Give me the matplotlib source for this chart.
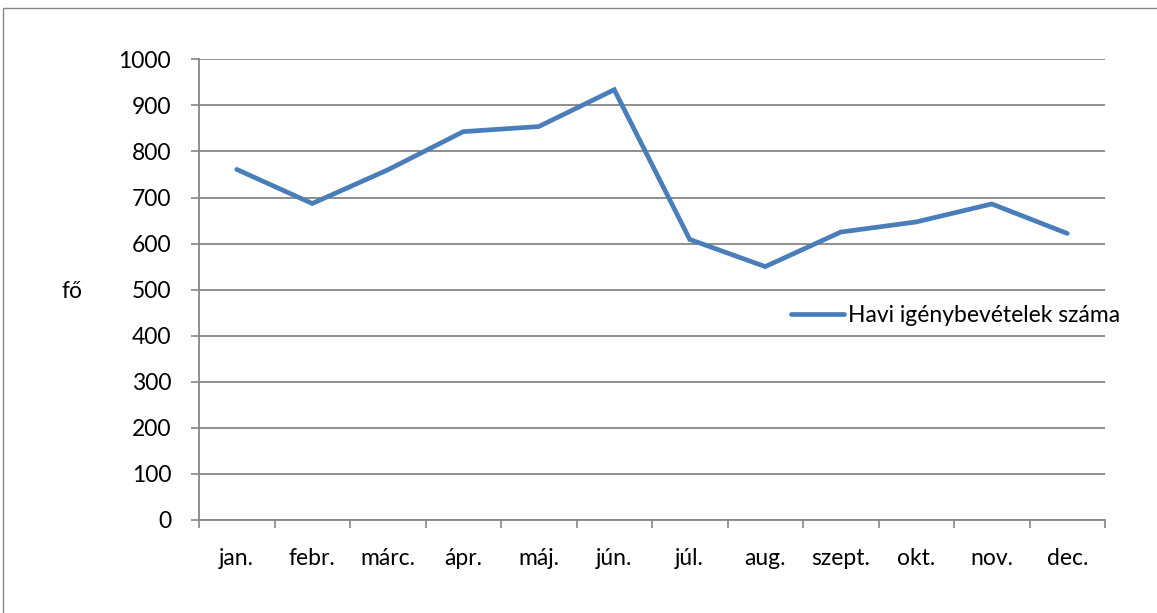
import matplotlib.pyplot as plt
from matplotlib.patches import Rectangle
import numpy as np

# === DATA ===
months = ["jan.", "febr.", "márc.", "ápr.", "máj.", "jún.",
          "júl.", "aug.", "szept.", "okt.", "nov.", "dec."]
values = [761, 687, 760, 843, 854, 934, 609, 550, 625, 647, 686, 622]
y_ticks = [0, 100, 200, 300, 400, 500, 600, 700, 800, 900, 1000]
series_name = "Havi igénybevételek száma"
y_label = "fő"

LINE_COLOR = "#4A7EBB"
GRID_COLOR = "#868686"
FS = 16.5

plt.rcParams['font.family'] = ['Lato', 'DejaVu Sans']

fig = plt.figure(figsize=(11.57, 6.13), dpi=100)
fig.patches.append(Rectangle((3 / 1157, -0.1), 1.2, (613 - 8) / 613 + 0.1,
                             transform=fig.transFigure, fill=False,
                             edgecolor="#868686", linewidth=1.0))

ax = fig.add_axes([199 / 1157, 93 / 613, 906 / 1157, (520 - 59.3) / 613])
x = np.arange(len(months))
line, = ax.plot(x, values, color=LINE_COLOR, linewidth=3.4,
                solid_joinstyle="miter", solid_capstyle="round", label=series_name)

ax.set_xlim(-0.5, len(months) - 0.5)
ax.set_ylim(0, 1000)
ax.set_yticks(y_ticks)
ax.set_xticks(x)
ax.set_xticklabels(months)
ax.set_xticks(np.arange(-0.5, len(months)), minor=True)
ax.tick_params(axis="x", which="major", length=0, pad=20, labelsize=FS)
ax.tick_params(axis="x", which="minor", length=6, color=GRID_COLOR, width=1.2)
ax.tick_params(axis="y", length=6, color=GRID_COLOR, width=1.2, pad=14, labelsize=FS)

ax.yaxis.grid(True, color=GRID_COLOR, linewidth=1.3)
ax.set_axisbelow(True)
for side in ("top", "right"):
    ax.spines[side].set_visible(False)
for side in ("left", "bottom"):
    ax.spines[side].set_color(GRID_COLOR)
    ax.spines[side].set_linewidth(1.3)

fig.text(72 / 1157, 1 - 291 / 613, y_label, fontsize=FS, ha="center", va="center")

fig.legend(handles=[line], loc="center left",
           bbox_to_anchor=(782 / 1157, 1 - 316 / 613), frameon=False,
           fontsize=FS, handlelength=2.3, handletextpad=0.2, borderaxespad=0)

fig.savefig("out.png", dpi=100)
